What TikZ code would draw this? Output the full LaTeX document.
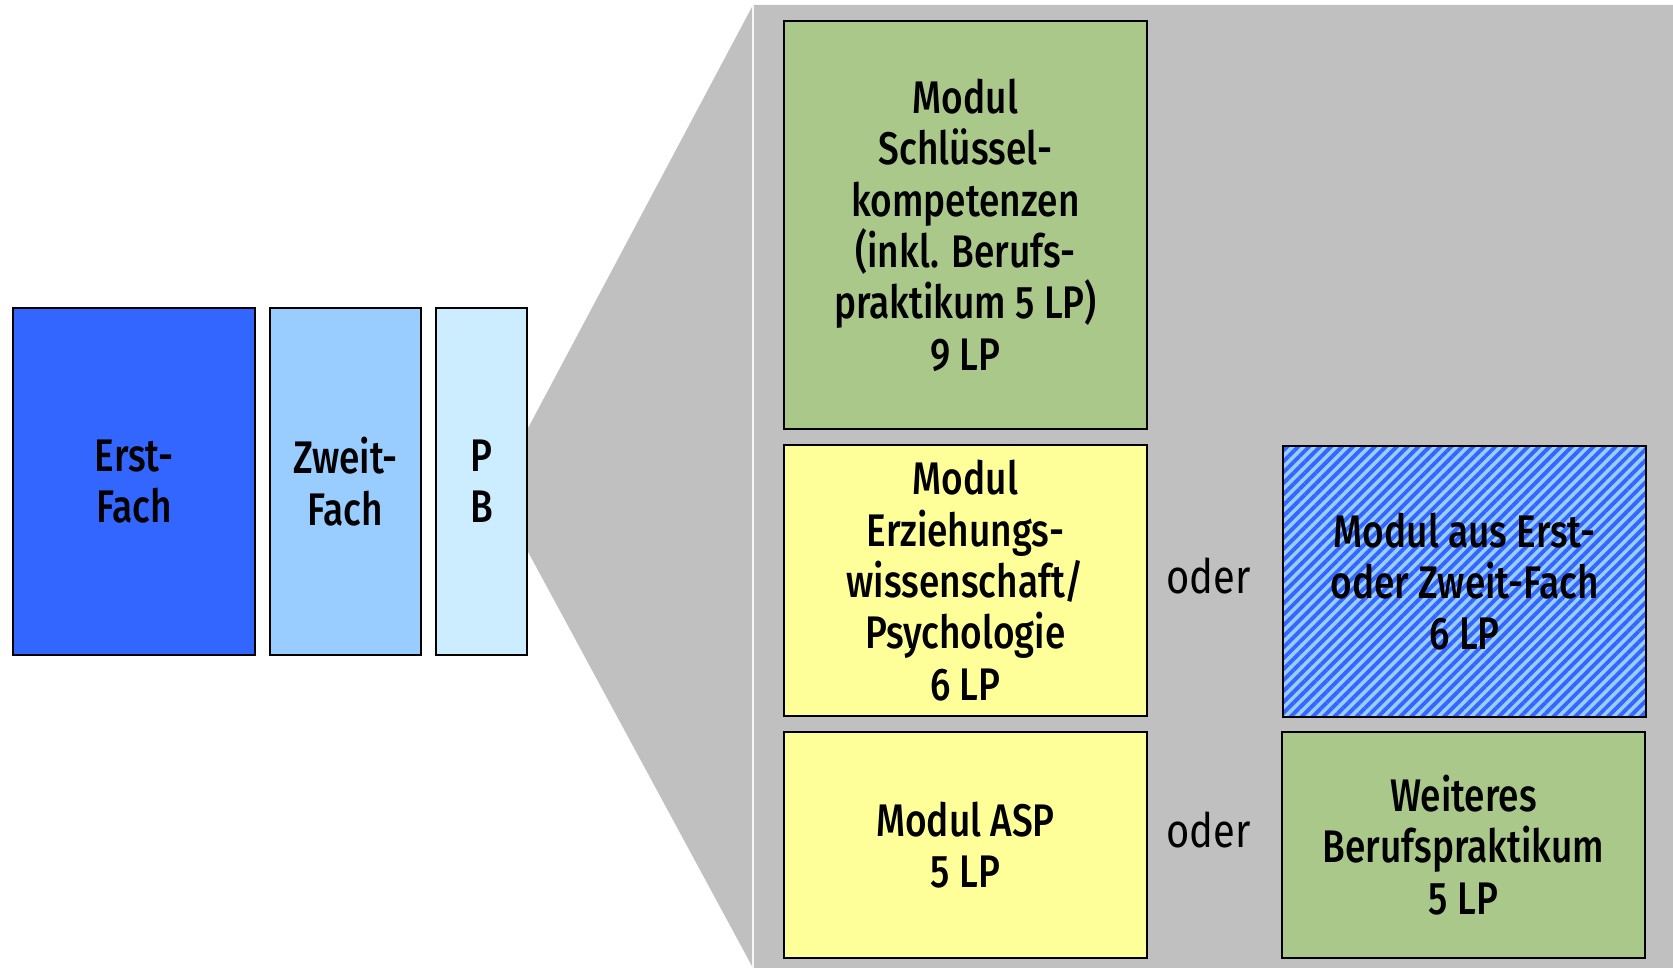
\documentclass[tikz,border=0pt]{standalone}
\usepackage{fontspec}
\setmainfont{Fira Sans}[UprightFont={* Medium}, FakeStretch=0.81]
\newfontfamily\oderfont{Fira Sans}[FakeStretch=0.84]
\usetikzlibrary{patterns.meta,calc}
\definecolor{erstblue}{HTML}{3366FF}
\definecolor{zweitblue}{HTML}{99CCFF}
\definecolor{pbblue}{HTML}{CCECFF}
\definecolor{modgreen}{HTML}{A9C88A}
\definecolor{modyellow}{HTML}{FFFF99}
\definecolor{bggray}{HTML}{C0C0C0}
\begin{document}
\begin{tikzpicture}[x=0.01cm, y=-0.01cm,
  font=\fontsize{13}{14.6}\selectfont,
  box/.style={draw=black, line width=0.5pt, align=center, inner sep=0pt, anchor=north west},
  oderlabel/.style={inner sep=0pt, font=\oderfont\fontsize{13.5}{15}\selectfont}]
\useasboundingbox (0,0) rectangle (1673,968);
% gray background wedge
\fill[bggray] (527,430) -- (753,5) -- (1673,5) -- (1673,968) -- (753,968) -- (527,550) -- cycle;
\draw[white!85!bggray, line width=0.4pt] (753,5) -- (753,968);
% left boxes
\node[box, fill=erstblue, minimum width=2.42cm, minimum height=3.47cm] (erst) at (12,307) {Erst-\\Fach};
\node[box, fill=zweitblue, minimum width=1.51cm, minimum height=3.47cm] (zweit) at (269,307) {Zweit-\\Fach};
\node[box, fill=pbblue, minimum width=0.91cm, minimum height=3.47cm] (pb) at (435,307) {P\\B};
% module boxes
\node[box, fill=modgreen, minimum width=3.63cm, minimum height=4.08cm] (schl) at (783,20)
  {Modul\\Schlüssel-\\kompetenzen\\(inkl. Berufs-\\praktikum 5 LP)\\9 LP};
\node[box, fill=modyellow, minimum width=3.63cm, minimum height=2.71cm] (erz) at (783,444)
  {Modul\\Erziehungs-\\wissenschaft/\\Psychologie\\6 LP};
\node[box, preaction={fill=zweitblue}, pattern={Lines[angle=45, distance=2.2pt, line width=1.1pt]}, pattern color=erstblue,
  minimum width=3.63cm, minimum height=2.71cm] (fach) at (1281,444)
  {Modul aus Erst-\\oder Zweit-Fach\\6 LP};
\node[box, fill=modyellow, minimum width=3.63cm, minimum height=2.26cm] (asp) at (783,731)
  {Modul ASP\\5 LP};
\node[box, fill=modgreen, minimum width=3.63cm, minimum height=2.26cm] (weit) at (1281,731)
  {Weiteres\\Berufspraktikum\\5 LP};
% oder labels
\node[oderlabel] (oder1) at ($(erz.east)!0.5!(fach.west)+(-6,-5)$) {oder};
\node[oderlabel] (oder2) at ($(asp.east)!0.5!(weit.west)+(-6,-15)$) {oder};
\end{tikzpicture}
\end{document}
